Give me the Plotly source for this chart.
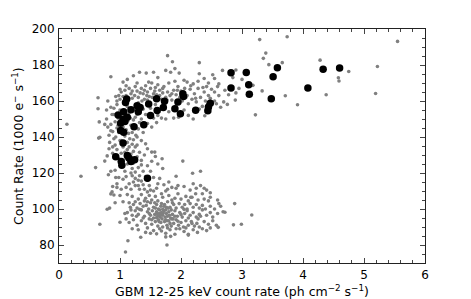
import plotly.graph_objects as go

# Black (highlighted) points
black_x = [2.82, 3.07, 3.58, 4.33, 4.60, 3.51, 3.11, 2.82, 3.12, 4.08, 3.48, 2.03, 2.04, 1.60, 1.73,
           1.95, 1.11, 1.09, 1.28, 1.33, 1.47, 1.71, 1.61, 1.90, 2.24, 2.48, 2.45, 2.44, 1.99, 1.50,
           1.18, 1.30, 0.97, 1.06, 1.12, 1.05, 1.01, 1.08, 1.23, 1.39, 1.01, 1.06, 1.05, 0.93, 1.12,
           1.02, 1.03, 1.18, 1.24, 1.45, 1.15]
black_y = [175.7, 175.9, 178.5, 177.6, 178.3, 173.5, 169.0, 167.2, 163.8, 167.2, 161.2, 164.0, 162.5, 161.2, 159.8,
           159.4, 161.1, 159.2, 157.3, 156.4, 158.3, 156.4, 154.7, 155.7, 154.9, 158.8, 156.6, 154.6, 152.9, 152.0,
           155.2, 154.0, 152.2, 154.0, 151.0, 149.9, 147.7, 148.6, 145.7, 146.8, 143.6, 142.7, 136.6, 129.0, 129.7,
           126.4, 124.3, 126.4, 127.3, 117.1, 128.2]

# Gray (all) points as (x, y) pairs
gray_pts = [
    # top fringe of upper arm
    (0.85,173.5),(1.05,170.5),(1.12,172),(1.22,174),(1.32,176),(1.43,175.5),(1.55,176),(1.62,173),(1.75,177),
    (1.78,185.2),(1.83,176),(1.86,181.8),(1.9,178),(1.97,175.5),(2.05,171.5),(2.1,170.5),(2.2,169.5),(2.3,181.3),
    (2.3,175.1),(2.28,171),(2.38,172.5),(2.45,170),(2.52,174.6),(2.55,172.5),(2.6,168),(2.68,177),(2.9,177.2),
    (2.85,173),(2.72,166),(2.78,163.5),(2.9,164.5),(2.95,167),(3.0,172),(3.18,168.7),(3.33,165.6),(2.62,163),(2.55,165),
    # main upper body
    (0.93,162.5),(0.98,163),(1.0,161),(0.95,158),(1.02,165),(1.08,166),(1.1,163),(1.15,167),(1.18,164),(1.2,161.5),
    (1.25,168),(1.28,165.5),(1.3,162),(1.35,167),(1.38,164),(1.4,161),(1.42,168.5),(1.45,165),(1.48,162.5),(1.5,167),
    (1.52,170),(1.55,164),(1.58,167.5),(1.6,163.5),(1.62,169),(1.65,166),(1.68,161),(1.7,164.5),(1.72,168),(1.75,162),
    (1.78,165),(1.8,170),(1.82,163),(1.85,160.5),(1.88,166),(1.9,171),(1.92,163.5),(1.95,168),(1.98,162),(2.0,165.5),
    (2.02,160),(2.06,167),(2.1,163),(2.12,158.5),(2.15,166.5),(2.18,161),(2.22,164),(2.25,159.5),(2.28,167),(2.32,162),
    (2.35,157),(2.38,165),(2.4,160),(2.42,168),(2.45,163),(2.48,161.5),(2.5,166.5),(2.55,160),(2.58,158.5),(2.62,169.5),
    (2.7,159.5),(2.76,158.1),(2.89,160.5),(2.65,156.5),
    (1.12,157),(1.15,153.5),(1.22,155),(1.25,151),(1.3,159),(1.35,150),(1.38,155.5),(1.42,152.5),(1.45,160.5),(1.5,156),
    (1.55,150.5),(1.58,158),(1.62,152),(1.68,155.5),(1.75,150),(1.8,154),(1.88,150.5),(1.92,157.5),(1.96,151),(2.05,155),
    (2.12,152),(2.2,150),(2.39,151.8),(2.3,155.5),
    (1.0,166.5),(1.05,162.5),(1.1,168.5),(1.14,160.5),(1.2,165.5),(1.24,163),(1.28,170),(1.33,164.5),(1.36,160),
    (1.4,166),(1.44,163),(1.47,170.5),(1.53,162),(1.57,165.5),(1.65,163),(1.7,167),(1.77,160.5),(1.85,164),(1.94,166),
    (2.08,162),(2.16,168.5),(2.24,161.5),(2.36,167.5),(2.44,158.5),(0.97,146.5),(1.03,150.5),(1.08,152),(1.13,149),
    (1.17,150.5),(1.25,146),(1.32,148),(1.38,142.5),(1.45,147.5),(1.52,145.5),(1.6,148),(1.68,150.5),(1.28,152.5),
    # left part of upper arm
    (0.64,161.8),(0.64,155.7),(0.66,148.4),(0.65,139.4),(0.67,139.8),(0.78,150),(0.8,145.5),(0.82,141),(0.85,147),
    (0.87,152.5),(0.88,143),(0.9,156),(0.92,148.5),(0.93,140),(0.95,145),(0.97,150.5),(0.98,142.5),(1.0,155),(1.02,138),
    (1.05,145.5),(1.08,140.5),(1.1,144),(1.14,142),(1.16,139),(1.18,146.5),(1.2,142.5),(1.22,149.5),(1.26,141),(1.3,144.5),
    (0.83,137),(0.88,134.5),(0.9,152.5),(0.95,160),(0.85,156.5),(0.78,155),(0.8,160),(0.75,147),
    (0.9,139),(0.85,143.5),(0.82,133.5),(0.79,129.5),(1.22,138.5),(1.12,133),(1.18,127.5),(1.32,131.5),(1.45,133.5),
    (1.52,126.5),
    # middle band
    (0.75,126.6),(0.6,123),(0.81,119),(0.85,121),(0.88,131),(0.92,135.5),(0.95,133),(0.98,128),(1.0,138),(1.02,131),
    (1.05,134.5),(1.08,121),(1.1,118),(1.12,125),(1.15,134.5),(1.18,130.5),(1.2,136),(1.22,132),(1.25,134.5),(1.28,129),
    (1.3,123),(1.32,118.5),(1.35,127),(1.38,121),(1.42,136.2),(1.35,138),(1.28,140),(1.22,125.5),(1.15,114),(1.1,112),
    (1.05,116.5),(0.98,117.5),(0.95,114),(0.92,121.5),(0.88,112.5),(0.85,108.4),(0.87,109.5),(0.92,103.5),(1.0,107.5),
    (1.02,111),(1.12,108),(1.18,111),(1.22,115),(1.25,120.5),(1.3,113),(1.35,115.5),(1.4,111),(1.45,124),(1.5,121),
    (1.52,131.6),(1.57,131.6),(1.58,129.2),(1.62,125),(1.69,127.9),(1.7,122.5),(1.8,115),(1.92,118.2),(2.03,126.6),
    (2.19,119.9),(2.32,121),(1.48,113),(1.55,117.5),(1.6,111.5),(1.65,117),(1.68,108.5),(1.75,110),(1.85,112),(1.9,106),
    (1.95,113),
    (1.1,128),(1.15,126),(1.2,122.5),(1.25,117),(1.3,116),(1.32,111),(1.38,113.5),(1.42,118),(1.45,116),(1.5,110.5),
    (1.25,113),(1.2,118.5),(1.35,124.5),(1.4,130),(1.28,135.5),(1.12,137),(1.08,131.5),(1.18,120),(1.05,127),
    # lower blob
    (1.45,109.5),(1.55,110),(1.62,114),(1.72,113.5),(1.78,111),(1.92,111.5),(2.05,112.5),(2.15,110.5),(2.25,111.5),
    (2.32,113),(2.42,110.5),(2.35,108.5),(2.48,109),(2.2,114),
    (1.2,107),(1.3,105.5),(1.35,108),(1.42,106),(1.48,107.5),(1.52,105),(1.58,107),(1.62,104.5),(1.7,106.5),(1.8,107.5),
    (1.85,105),(1.95,108.5),(2.0,105.5),(2.08,107),(2.12,104.5),(2.18,106.5),(2.28,105),(2.38,105.5),(2.45,104.5),
    (1.25,104),(1.45,104),(1.15,103.5),
    (1.17,101),(1.22,102.5),(1.28,100.5),(1.33,103),(1.38,101.5),(1.43,102),(1.47,100),(1.5,103.5),(1.55,101),(1.6,102.5),
    (1.63,100),(1.68,103),(1.72,101.5),(1.75,99.5),(1.78,104),(1.82,101),(1.88,102.5),(1.92,100.5),(1.97,103),(2.02,101),
    (2.06,102.5),(2.1,100),(2.15,103),(2.2,101),(2.25,102.5),(2.3,100.5),(2.35,102),(2.4,100),(2.48,101.5),(2.55,100),
    (2.88,103),
    (1.12,98),(1.2,96.5),(1.25,99),(1.3,97),(1.35,99.5),(1.4,96),(1.45,98.5),(1.5,96.5),(1.53,99),(1.57,97),(1.6,98.5),
    (1.62,96),(1.64,97.5),(1.66,95.5),(1.68,98),(1.7,96.5),(1.72,99),(1.74,95.5),(1.76,97.5),(1.78,96),(1.8,98.5),
    (1.83,95),(1.86,97),(1.9,99),(1.94,96),(1.98,98),(2.02,95.5),(2.06,97.5),(2.1,99),(2.15,96.5),(2.2,98),(2.25,95.5),
    (2.3,97),(2.35,99.5),(2.42,96.5),(2.48,98),(2.52,95.5),(2.6,97.5),(2.69,98.5),(2.72,98.2),(3.16,96.7),(1.65,99.5),
    (1.69,94.5),(1.6,95.2),(1.75,94),
    (1.15,92.5),(1.22,94),(1.28,91),(1.35,93.5),(1.42,92),(1.48,94.5),(1.52,91.5),(1.58,93),(1.62,90.5),(1.67,92.5),
    (1.7,90),(1.73,93),(1.77,91),(1.8,93.5),(1.84,90.5),(1.88,92),(1.92,94),(1.96,91),(2.0,92.5),(2.04,90),(2.08,93.5),
    (2.12,91),(2.17,93),(2.22,90.5),(2.26,92),(2.3,90),(2.38,93),(2.45,91.5),(2.52,93.5),(2.58,91),(2.86,91.2),(2.99,91.5),
    (1.0,92.6),(0.67,91.5),(1.85,94.5),
    (1.3,88.5),(1.42,87),(1.5,86.5),(1.55,88),(1.65,89),(1.75,86.5),(1.82,88.5),(1.9,86),(1.98,89),(2.05,87.5),(2.12,86),
    (2.2,88.5),(2.27,87),(2.35,89),(2.42,88),(2.48,89.5),(2.61,89.8),(1.34,84.3),(1.75,84.5),(1.83,84.8),(2.12,85.5),
    (1.6,86.2),
    (1.77,80),(1.09,76.1),(1.13,82.4),(0.79,99.9),(0.83,100.5),(0.9,107.8),(0.93,117.5),(0.95,112),(1.05,104),
    (1.08,97.5),(1.1,94.5),(1.2,89),
    (1.55,95),(1.58,100.5),(1.63,94),(1.67,101.5),(1.71,97.8),(1.73,102.5),(1.77,93.5),(1.79,100.5),(1.81,96.5),
    (1.84,99.5),(1.87,94.5),(1.6,97.2),(1.66,96.8),(1.7,99.8),(1.64,93),(1.76,101),(1.82,92),(1.52,94),(1.48,97.5),
    (1.9,96),(1.95,93.2),(2.0,97),(2.05,99.8),(2.12,95),(2.18,92),(2.28,94.5),(2.32,96),(2.08,89.5),(1.92,89),(1.78,89.5),
    (1.68,87.8),(1.45,89.5),(1.38,95),(1.32,99.8),(1.27,96),(1.18,99.5),(1.4,104.5),(1.57,103.5),(1.86,103.5),(2.16,106.5),
    (2.24,108.5),(2.6,105),(2.65,101.5),(2.38,111.5),(2.48,106.5),(2.62,103),
    # outliers
    (0.13,147.1),(0.36,118.2),(3.29,194.1),(3.74,195.7),(5.55,193.1),(3.39,186.6),(3.35,183.7),(3.66,181.3),(4.28,182.7),
    (5.22,179.2),(4.75,176.4),(4.58,172.9),(4.59,171.1),(5.19,164.2),(4.38,163.5),(3.71,162.9),(3.91,157.9),(3.22,152.3),
    (3.44,180.2),
]
gray_x = [p[0] for p in gray_pts]
gray_y = [p[1] for p in gray_pts]

x_ticks = [0, 1, 2, 3, 4, 5, 6]
y_ticks = [80, 100, 120, 140, 160, 180, 200]
x_title = "GBM 12-25 keV count rate (ph cm<sup>\u22122</sup> s<sup>\u22121</sup>)"
y_title = "Count Rate (1000 e<sup>\u2212</sup> s<sup>\u22121</sup>)"

fig = go.Figure()
fig.add_trace(go.Scatter(x=gray_x, y=gray_y, mode="markers",
                         marker=dict(size=3.6, color="#808080", line=dict(width=0)),
                         hoverinfo="skip", showlegend=False))
fig.add_trace(go.Scatter(x=black_x, y=black_y, mode="markers",
                         marker=dict(size=7.5, color="black", line=dict(width=0)),
                         showlegend=False))

font = "DejaVu Sans, sans-serif"
axis_common = dict(showgrid=False, zeroline=False, showline=True, linecolor="#222", linewidth=1,
                   mirror="allticks", ticks="inside", ticklen=5, tickcolor="#444", tickwidth=1,
                   automargin=False,
                   tickfont=dict(family=font, size=12, color="black"))

fig.update_layout(
    width=463, height=294,
    margin=dict(l=51, r=46, t=21, b=39),
    paper_bgcolor="white", plot_bgcolor="white",
    font=dict(family=font, size=12, color="black"),
    xaxis=dict(range=[0, 6], tickvals=x_ticks, ticktext=[str(v) for v in x_ticks],
               ticklabelstandoff=1,
               minor=dict(ticks="inside", dtick=0.2, ticklen=3, tickcolor="#444"),
               **axis_common),
    yaxis=dict(range=[70, 200], tickvals=y_ticks, ticktext=[str(v) for v in y_ticks],
               ticklabelstandoff=1,
               minor=dict(ticks="inside", dtick=5, ticklen=3, tickcolor="#444"),
               **axis_common),
    annotations=[
        dict(text=x_title, xref="paper", yref="paper", x=0.5, y=0, xanchor="center", yanchor="middle",
             yshift=-28, showarrow=False, font=dict(family=font, size=12.5, color="black")),
        dict(text=y_title, xref="paper", yref="paper", x=0, y=0.5, xanchor="center", yanchor="middle",
             xshift=-41, textangle=-90, showarrow=False, font=dict(family=font, size=12.5, color="black")),
    ],
)

fig.write_html("out.html")
